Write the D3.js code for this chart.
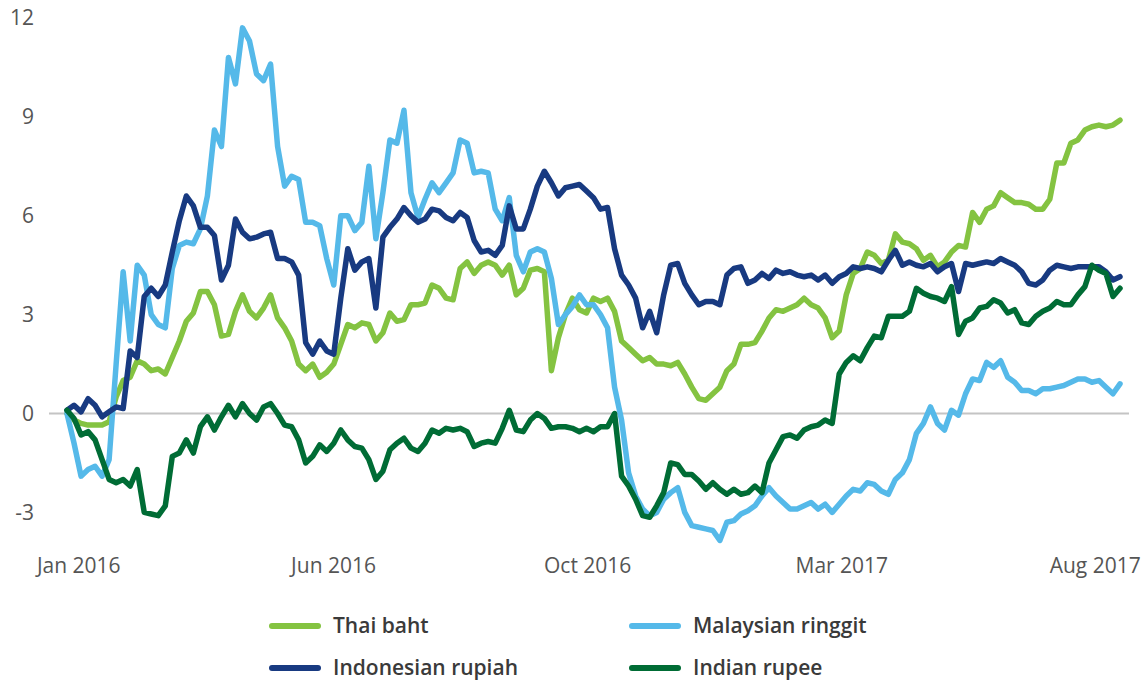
<!DOCTYPE html>
<html><head><meta charset="utf-8">
<script src="https://cdn.jsdelivr.net/npm/d3@7"></script>
<style>body{margin:0;background:#fff;overflow:hidden} text{font-family:"Open Sans",sans-serif}</style>
</head><body><svg id="c" width="1147" height="681"></svg>
<script>
const thaiBaht = [0.0,-0.2,-0.3,-0.35,-0.35,-0.35,-0.25,0.5,1.0,1.1,1.6,1.5,1.3,1.35,1.2,1.7,2.2,2.8,3.05,3.7,3.7,3.3,2.35,2.4,3.1,3.6,3.1,2.9,3.2,3.6,2.9,2.6,2.2,1.5,1.3,1.5,1.1,1.25,1.5,2.1,2.7,2.6,2.75,2.7,2.2,2.45,3.05,2.8,2.85,3.3,3.3,3.35,3.9,3.8,3.5,3.45,4.4,4.6,4.25,4.5,4.6,4.5,4.2,4.5,3.6,3.8,4.35,4.4,4.3,1.3,2.3,3.0,3.5,3.15,3.05,3.5,3.4,3.5,3.1,2.2,2.0,1.8,1.6,1.7,1.5,1.5,1.45,1.55,1.2,0.8,0.45,0.4,0.6,0.8,1.3,1.5,2.1,2.1,2.15,2.5,2.9,3.15,3.1,3.2,3.3,3.5,3.3,3.2,2.9,2.3,2.5,3.6,4.25,4.4,4.9,4.8,4.55,4.65,5.45,5.2,5.15,5.0,4.65,4.8,4.45,4.6,4.9,5.1,5.05,6.1,5.8,6.2,6.3,6.7,6.55,6.4,6.4,6.35,6.2,6.2,6.5,7.6,7.6,8.2,8.3,8.6,8.7,8.75,8.7,8.75,8.9];
const malaysianRinggit = [0.0,-0.9,-1.9,-1.7,-1.6,-1.9,-1.4,1.5,4.3,2.2,4.5,4.2,3.0,2.7,2.6,4.4,5.1,5.2,5.15,5.6,6.6,8.6,8.1,10.8,10.0,11.7,11.3,10.3,10.1,10.6,8.1,6.9,7.2,7.1,5.8,5.8,5.7,4.7,3.9,6.0,6.0,5.55,5.8,7.5,5.3,6.7,8.3,8.2,9.2,6.7,5.95,6.5,7.0,6.7,7.0,7.3,8.3,8.2,7.3,7.35,7.3,6.2,5.85,6.55,4.8,4.3,4.9,5.0,4.9,4.1,2.7,3.0,3.25,3.6,3.3,3.3,3.0,2.6,0.8,-0.2,-1.8,-2.5,-2.9,-3.1,-3.0,-2.6,-2.4,-2.25,-3.0,-3.4,-3.45,-3.5,-3.55,-3.85,-3.3,-3.25,-3.05,-2.95,-2.8,-2.5,-2.25,-2.5,-2.7,-2.9,-2.9,-2.8,-2.7,-2.9,-2.75,-3.0,-2.75,-2.5,-2.3,-2.35,-2.1,-2.15,-2.35,-2.45,-2.0,-1.8,-1.4,-0.6,-0.3,0.2,-0.3,-0.5,0.1,-0.05,0.6,1.05,1.0,1.55,1.4,1.6,1.1,0.95,0.7,0.7,0.6,0.75,0.75,0.8,0.85,0.95,1.05,1.05,0.95,1.0,0.8,0.6,0.9];
const indonesianRupiah = [0.1,0.25,0.05,0.45,0.25,-0.1,0.05,0.2,0.15,1.9,1.7,3.55,3.8,3.55,3.9,4.9,5.85,6.6,6.3,5.65,5.65,5.4,4.05,4.5,5.9,5.5,5.3,5.35,5.45,5.5,4.7,4.7,4.6,4.2,2.15,1.8,2.2,1.9,1.8,3.5,5.0,4.35,4.6,4.7,3.2,5.35,5.65,5.9,6.25,6.0,5.8,5.9,6.2,6.15,5.95,5.85,6.1,5.95,5.25,4.9,4.95,4.8,5.1,6.3,5.6,5.6,6.2,6.9,7.35,7.0,6.6,6.85,6.9,6.95,6.75,6.55,6.2,6.25,5.0,4.2,3.9,3.5,2.6,3.1,2.45,3.6,4.5,4.55,3.95,3.6,3.3,3.4,3.4,3.3,4.2,4.4,4.45,3.95,4.05,4.25,4.1,4.35,4.25,4.3,4.2,4.15,4.2,4.05,4.2,3.95,4.15,4.25,4.45,4.4,4.45,4.4,4.3,4.65,4.95,4.5,4.6,4.5,4.45,4.55,4.3,4.45,4.55,3.7,4.55,4.5,4.55,4.6,4.55,4.7,4.6,4.5,4.3,3.95,3.9,4.05,4.35,4.5,4.45,4.4,4.45,4.45,4.45,4.45,4.3,4.05,4.15];
const indianRupee = [0.1,-0.15,-0.65,-0.55,-0.8,-1.4,-2.0,-2.1,-2.0,-2.2,-1.7,-3.0,-3.05,-3.1,-2.8,-1.3,-1.2,-0.8,-1.2,-0.4,-0.1,-0.5,-0.1,0.25,-0.1,0.3,0.0,-0.2,0.2,0.3,0.0,-0.35,-0.4,-0.8,-1.5,-1.3,-0.95,-1.15,-0.9,-0.5,-0.8,-1.0,-1.05,-1.4,-2.0,-1.75,-1.1,-0.9,-0.75,-1.05,-1.15,-0.9,-0.5,-0.6,-0.45,-0.5,-0.45,-0.55,-1.0,-0.9,-0.85,-0.9,-0.45,0.1,-0.5,-0.55,-0.2,0.0,-0.15,-0.45,-0.4,-0.4,-0.45,-0.55,-0.45,-0.55,-0.4,-0.4,0.0,-1.9,-2.2,-2.6,-3.1,-3.15,-2.8,-2.4,-1.5,-1.55,-1.85,-1.85,-2.05,-2.3,-2.1,-2.3,-2.45,-2.3,-2.45,-2.4,-2.2,-2.4,-1.5,-1.1,-0.7,-0.65,-0.75,-0.5,-0.4,-0.35,-0.2,-0.3,1.2,1.55,1.75,1.6,2.0,2.35,2.3,2.95,2.95,2.95,3.1,3.8,3.65,3.55,3.5,3.4,3.85,2.4,2.8,2.9,3.2,3.25,3.45,3.35,3.05,3.15,2.75,2.7,2.95,3.1,3.2,3.4,3.3,3.3,3.6,3.85,4.5,4.35,4.25,3.55,3.8];

const seriesNames = ["Thai baht","Malaysian ringgit","Indonesian rupiah","Indian rupee"];
const seriesColors = ["#84c341","#55b9e9","#183a81","#006c35"];
const seriesValues = [thaiBaht, malaysianRinggit, indonesianRupiah, indianRupee];
const yTicks = [-3,0,3,6,9,12];
const xTickLabels = ["Jan 2016","Jun 2016","Oct 2016","Mar 2017","Aug 2017"];
const xTickIndex = [1.6,37.9,74.1,110.3,146.4];

const svg = d3.select("#c");
const x = d3.scaleLinear().domain([0, thaiBaht.length-1]).range([67,1120]);
const y = d3.scaleLinear().domain([-3,12]).range([512.4,18]);

// zero line
svg.append("line").attr("x1",49).attr("x2",1129).attr("y1",y(0)).attr("y2",y(0))
  .attr("stroke","#c4c4c4").attr("stroke-width",2);

// y axis labels
const yAxis = d3.axisLeft(y).tickValues(yTicks).tickSize(0).tickPadding(0).tickFormat(d=>String(d));
const gy = svg.append("g").attr("transform","translate(34,0)").call(yAxis);
gy.select(".domain").remove();
gy.selectAll("text").attr("font-size",21).attr("fill","#555").attr("font-family","'Open Sans',sans-serif");

// x axis labels
const xAxis = d3.axisBottom(x).tickValues(xTickIndex).tickSize(0).tickPadding(0)
  .tickFormat((d,i)=>xTickLabels[i]);
const gx = svg.append("g").attr("transform","translate(0,558)").call(xAxis);
gx.select(".domain").remove();
gx.selectAll("text").attr("font-size",21).attr("fill","#555").attr("font-family","'Open Sans',sans-serif");

const line = d3.line().x((d,i)=>x(i)).y(d=>y(d)).curve(d3.curveLinear);
seriesValues.forEach((vals,k)=>{
  svg.append("path").datum(vals).attr("d",line).attr("fill","none")
    .attr("stroke",seriesColors[k]).attr("stroke-width",5.5)
    .attr("stroke-linejoin","round").attr("stroke-linecap","round");
});

// legend
const legendPos = [[272,626],[632,626],[272,668],[632,668]];
seriesNames.forEach((n,k)=>{
  const [lx,ly] = legendPos[k];
  svg.append("line").attr("x1",lx).attr("x2",lx+46).attr("y1",ly).attr("y2",ly)
    .attr("stroke",seriesColors[k]).attr("stroke-width",6).attr("stroke-linecap","round");
  svg.append("text").attr("x",lx+61).attr("y",ly).attr("dy","0.35em")
    .attr("font-size",21).attr("font-weight",600).attr("fill","#3a3a3a").text(n);
});
</script></body></html>
